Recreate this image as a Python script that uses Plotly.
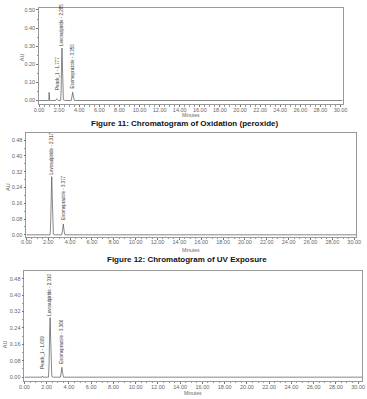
import plotly.graph_objects as go

W, H = 367, 399

# ---------------- data ----------------
# Figure 11 (Oxidation, peroxide) trace
t_ox = [0.0, 0.97, 1.0, 1.03, 1.06, 1.65, 1.72, 1.777, 1.84, 1.92, 2.15, 2.2, 2.24, 2.285, 2.33, 2.37, 2.42, 2.55, 3.2, 3.27, 3.35, 3.43, 3.52, 30.2]
au_ox = [0.0, 0.0, 0.045, 0.0, 0.0, 0.0, 0.006, 0.01, 0.006, 0.0, 0.0, 0.06, 0.2, 0.29, 0.19, 0.05, 0.004, 0.0, 0.0, 0.02, 0.046, 0.018, 0.0, 0.0]
# Figure 12 (UV exposure) trace
t_uv = [0.0, 2.17, 2.22, 2.27, 2.317, 2.36, 2.41, 2.47, 2.6, 3.24, 3.3, 3.377, 3.45, 3.53, 30.2]
au_uv = [0.0, 0.0, 0.06, 0.21, 0.295, 0.2, 0.05, 0.003, 0.0, 0.0, 0.022, 0.055, 0.02, 0.0, 0.0]
# third chromatogram trace
t_3 = [0.0, 1.55, 1.609, 1.67, 2.16, 2.21, 2.26, 2.31, 2.35, 2.40, 2.46, 2.6, 3.23, 3.29, 3.366, 3.44, 3.52, 30.4]
au_3 = [0.0, 0.0, 0.005, 0.0, 0.0, 0.06, 0.21, 0.29, 0.2, 0.05, 0.003, 0.0, 0.0, 0.018, 0.048, 0.017, 0.0, 0.0]

# peak labels: (time, height, text)
peaks_ox = [(1.777, 0.01, "Peack_1 - 1.777"), (2.285, 0.29, "Levosulpiride - 2.285"), (3.350, 0.046, "Esomeprazole - 3.350")]
peaks_uv = [(2.317, 0.295, "Levosulpiride - 2.317"), (3.377, 0.055, "Esomeprazole - 3.377")]
peaks_3 = [(1.609, 0.005, "Peack_1 - 1.609"), (2.310, 0.29, "Levosulpiride - 2.310"), (3.366, 0.048, "Esomeprazole - 3.366")]

captions = ["Figure 11: Chromatogram of Oxidation (peroxide)", "Figure 12: Chromatogram of UV Exposure"]

x_title = "Minutes"
y_title = "AU"

# ---------------- layout helpers ----------------
def px_x(p):
    return p / W

def px_y(p):
    return 1 - p / H

panels = [
    # (t, au, peaks, x px domain, y px domain, xrange, yrange, ydtick, label shifts)
    (t_ox, au_ox, peaks_ox, (35, 347), (7, 104), [0, 30.2], [-0.022, 0.511], 0.10, [8, 1, 3]),
    (t_uv, au_uv, peaks_uv, (22, 361), (133, 237), [0, 30.18], [-0.0101, 0.515], 0.08, [1, 3]),
    (t_3, au_3, peaks_3, (20, 367), (271, 382), [0, 30.35], [-0.019, 0.519], 0.08, [6, 1, 3]),
]

fig = go.Figure()
tickfont = dict(family="Liberation Sans, Arial, sans-serif", size=5.5, color="#666")
labfont = dict(family="Liberation Sans, Arial, sans-serif", size=4.5, color="#333")
annotations = []
layout = {}

for i, (t, au, pk, xd, yd, xr, yr, ydt, shifts) in enumerate(panels):
    n = "" if i == 0 else str(i + 1)
    xa, ya = "x" + n, "y" + n
    fig.add_trace(go.Scatter(x=t, y=au, mode="lines", line=dict(color="#555", width=0.7),
                             xaxis=xa, yaxis=ya, showlegend=False, hoverinfo="skip"))
    layout["xaxis" + n] = dict(
        domain=[px_x(xd[0]), px_x(xd[1])], range=xr, anchor=ya,
        dtick=2, tick0=0, tickformat=".2f", ticks="outside", ticklen=2, tickwidth=0.6,
        tickcolor="#777", tickfont=tickfont, showgrid=False, zeroline=False,
        showline=True, linecolor="#999", linewidth=0.7, mirror=True, ticklabelstandoff=-2,
        minor=dict(dtick=0.5, ticks="outside", ticklen=1.2, tickcolor="#999", showgrid=False),
    )
    layout["yaxis" + n] = dict(
        domain=[px_y(yd[1]), px_y(yd[0])], range=yr, anchor=xa,
        dtick=ydt, tick0=0, tickformat=".2f", ticks="outside", ticklen=2, tickwidth=0.6,
        tickcolor="#777", tickfont=tickfont, showgrid=False, zeroline=False,
        showline=True, linecolor="#999", linewidth=0.7, mirror=True,
        minor=dict(dtick=ydt / 2, ticks="outside", ticklen=1.2, tickcolor="#999", showgrid=False),
    )
    for (pt, ph, txt), s in zip(pk, shifts):
        annotations.append(dict(x=pt, y=ph, xref=xa, yref=ya, text=txt, textangle=-90,
                                showarrow=False, xanchor="center", yanchor="bottom", yshift=s,
                                borderpad=0, font=labfont))

# "Minutes" titles
for xc, yp in [((35 + 347) / 2, 115), ((22 + 361) / 2, 250), ((20 + 367) / 2, 394)]:
    annotations.append(dict(x=px_x(xc), y=px_y(yp), xref="paper", yref="paper", text=x_title,
                            xanchor="center", yanchor="middle", showarrow=False, borderpad=0,
                            font=dict(family="Liberation Sans, Arial", size=5, color="#666")))
# AU titles
for xp, yp in [(17, 57), (3, 187), (0, 345)]:
    annotations.append(dict(x=px_x(xp), y=px_y(yp), xref="paper", yref="paper", text=y_title,
                            xanchor="center", yanchor="middle", textangle=-90, showarrow=False,
                            font=dict(family="Liberation Sans, Arial", size=5.5, color="#666")))
# captions
for txt, xc, yp in [(captions[0], 185, 123), (captions[1], 187, 260)]:
    annotations.append(dict(x=px_x(xc), y=px_y(yp), xref="paper", yref="paper", text="<b>" + txt + "</b>",
                            xanchor="center", yanchor="middle", showarrow=False,
                            font=dict(family="Liberation Sans, Arial, sans-serif", size=8, color="#111")))

fig.update_layout(
    width=W, height=H, margin=dict(l=0, r=0, t=0, b=0),
    paper_bgcolor="white", plot_bgcolor="white",
    annotations=annotations, **layout,
)

fig.write_html("out.html", config={"displayModeBar": False})
